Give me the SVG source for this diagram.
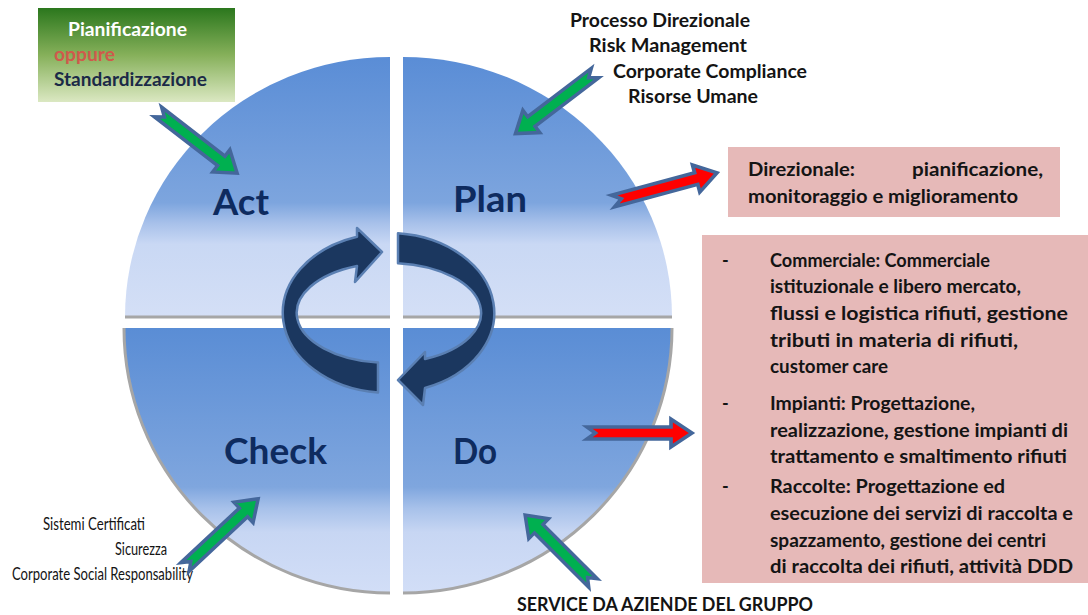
<svg xmlns="http://www.w3.org/2000/svg" xmlns:xlink="http://www.w3.org/1999/xlink" width="1088" height="615" viewBox="0 0 1088 615">
<style>
.t{font-family:Lato,"Open Sans","Liberation Sans",sans-serif;font-weight:bold;font-size:18px;fill:#141414}
.q{font-family:Lato,"Open Sans","Liberation Sans",sans-serif;font-weight:bold;font-size:37px;fill:#0e2b5f}
.n{font-family:Lato,"Liberation Sans",sans-serif;font-weight:normal;font-size:16.5px;fill:#141414}
.ga{fill:#00b050;stroke:#44679b;stroke-width:3.5;stroke-linejoin:miter}
.ra{fill:#ff0000;stroke:#44679b;stroke-width:3.5;stroke-linejoin:miter}
.loop{fill:#1b375f;stroke:#5a7fb2;stroke-width:2.5;stroke-linejoin:round}
.pink{fill:#e6b9b8}
.edge{fill:none;stroke:#a6a6a6;stroke-width:3}
</style>
<defs>
<linearGradient id="gTop" gradientUnits="userSpaceOnUse" x1="0" y1="57" x2="0" y2="317">
<stop offset="0" stop-color="#5a8dd6"/>
<stop offset="0.56" stop-color="#7da5de"/>
<stop offset="0.64" stop-color="#a8c1ea"/>
<stop offset="0.72" stop-color="#c9d8f4"/>
<stop offset="1" stop-color="#d4dff6"/>
</linearGradient>
<linearGradient id="gBot" gradientUnits="userSpaceOnUse" x1="0" y1="328" x2="0" y2="593">
<stop offset="0" stop-color="#5a8dd5"/>
<stop offset="0.6" stop-color="#7fa6de"/>
<stop offset="0.68" stop-color="#a7c1ea"/>
<stop offset="0.77" stop-color="#c7d6f3"/>
<stop offset="1" stop-color="#d2def7"/>
</linearGradient>
<linearGradient id="gGreen" x1="0" y1="0" x2="0" y2="1">
<stop offset="0" stop-color="#2b771d"/>
<stop offset="0.5" stop-color="#86b05a"/>
<stop offset="1" stop-color="#dbe8c2"/>
</linearGradient>
<path id="arr" d="M0,-6 L80,-6 L80,-14 L100,0 L80,14 L80,6 L0,6 L8,0 Z"/>
</defs>
<rect width="1088" height="615" fill="#ffffff"/>

<g id="act">
<path d="M390,317 L125,317 A265,260 0 0 1 390,57 Z" fill="url(#gTop)"/>
<line class="edge" x1="125" y1="317" x2="390" y2="317"/>
<text class="q" x="213" y="215" textLength="56" lengthAdjust="spacingAndGlyphs">Act</text>
</g>
<g id="plan">
<path d="M403,317 L403,57 A269,260 0 0 1 672,317 Z" fill="url(#gTop)"/>
<line class="edge" x1="403" y1="317" x2="672" y2="317"/>
<text class="q" x="453" y="212" textLength="74" lengthAdjust="spacingAndGlyphs">Plan</text>
</g>
<g id="check">
<path d="M390,328 L390,593 A266,265 0 0 1 124,328 Z" fill="url(#gBot)"/>
<path class="edge" d="M390,593 A266,265 0 0 1 124,328"/>
<text class="q" x="224" y="464" textLength="103" lengthAdjust="spacingAndGlyphs">Check</text>
</g>
<g id="do">
<path d="M403,328 L672,328 A269,265 0 0 1 403,593 Z" fill="url(#gBot)"/>
<path class="edge" d="M672,328 A269,265 0 0 1 403,593"/>
<text class="q" x="453" y="464" textLength="44" lengthAdjust="spacingAndGlyphs">Do</text>
</g>

<g id="cycle">
<path class="loop" d="M378,392.6 A106,80 0 0 1 357,236.7 L357,228 L382,252 L355,282 L357,266 A92,50 0 0 0 378,362.6 Z"/>
<path class="loop" d="M398,233.3 A106,80 0 0 1 425,388 L423,405 L398,380 L425,352 L425,359 A92,50 0 0 0 398,263.2 Z"/>
</g>

<g id="box-pianificazione">
<rect x="38" y="8" width="197" height="94" fill="url(#gGreen)"/>
<text class="t" x="68" y="36" textLength="119" lengthAdjust="spacingAndGlyphs" style="fill:#ffffff">Pianificazione</text>
<text class="t" x="54" y="61" textLength="61" lengthAdjust="spacingAndGlyphs" style="fill:#cf5a4c">oppure</text>
<text class="t" x="54" y="86" textLength="153" lengthAdjust="spacingAndGlyphs" style="fill:#1b2a47">Standardizzazione</text>
</g>

<g id="plan-inputs">
<text class="t" x="570" y="27" textLength="180" lengthAdjust="spacingAndGlyphs">Processo Direzionale</text>
<text class="t" x="589" y="52" textLength="158" lengthAdjust="spacingAndGlyphs">Risk Management</text>
<text class="t" x="613" y="78" textLength="194" lengthAdjust="spacingAndGlyphs">Corporate Compliance</text>
<text class="t" x="628" y="103" textLength="130" lengthAdjust="spacingAndGlyphs">Risorse Umane</text>
</g>

<g id="box-direzionale">
<rect class="pink" x="728" y="147" width="332" height="70"/>
<text class="t" x="748" y="176" textLength="107" lengthAdjust="spacingAndGlyphs">Direzionale:</text>
<text class="t" x="912" y="176" textLength="131" lengthAdjust="spacingAndGlyphs">pianificazione,</text>
<text class="t" x="748" y="203" textLength="270" lengthAdjust="spacingAndGlyphs">monitoraggio e miglioramento</text>
</g>

<g id="box-do">
<rect class="pink" x="702" y="235" width="386" height="348"/>
<text class="t" x="722" y="267">-</text>
<text class="t" x="770" y="267" textLength="220" lengthAdjust="spacingAndGlyphs">Commerciale: Commerciale</text>
<text class="t" x="770" y="293" textLength="251" lengthAdjust="spacingAndGlyphs">istituzionale e libero mercato,</text>
<text class="t" x="770" y="320" textLength="298" lengthAdjust="spacingAndGlyphs">flussi e logistica rifiuti, gestione</text>
<text class="t" x="770" y="347" textLength="248" lengthAdjust="spacingAndGlyphs">tributi in materia di rifiuti,</text>
<text class="t" x="770" y="373" textLength="118" lengthAdjust="spacingAndGlyphs">customer care</text>
<text class="t" x="722" y="410">-</text>
<text class="t" x="770" y="410" textLength="205" lengthAdjust="spacingAndGlyphs">Impianti: Progettazione,</text>
<text class="t" x="770" y="437" textLength="298" lengthAdjust="spacingAndGlyphs">realizzazione, gestione impianti di</text>
<text class="t" x="770" y="463" textLength="297" lengthAdjust="spacingAndGlyphs">trattamento e smaltimento rifiuti</text>
<text class="t" x="722" y="493">-</text>
<text class="t" x="770" y="493" textLength="235" lengthAdjust="spacingAndGlyphs">Raccolte: Progettazione ed</text>
<text class="t" x="770" y="520" textLength="303" lengthAdjust="spacingAndGlyphs">esecuzione dei servizi di raccolta e</text>
<text class="t" x="770" y="547" textLength="276" lengthAdjust="spacingAndGlyphs">spazzamento, gestione dei centri</text>
<text class="t" x="770" y="573" textLength="303" lengthAdjust="spacingAndGlyphs">di raccolta dei rifiuti, attività DDD</text>
</g>

<g id="check-inputs">
<text class="n" x="43" y="530" textLength="102" lengthAdjust="spacingAndGlyphs">Sistemi Certificati</text>
<text class="n" x="115" y="555" textLength="52" lengthAdjust="spacingAndGlyphs">Sicurezza</text>
<text class="n" x="12" y="580" textLength="181" lengthAdjust="spacingAndGlyphs">Corporate Social Responsability</text>
</g>

<g id="do-inputs">
<text class="t" x="517" y="611" textLength="296" lengthAdjust="spacingAndGlyphs">SERVICE DA AZIENDE DEL GRUPPO</text>
</g>

<g id="connectors">
<use xlink:href="#arr" class="ga" transform="translate(158,112) rotate(37.7)"/>
<use xlink:href="#arr" class="ga" transform="translate(595,73) rotate(142.7)"/>
<use xlink:href="#arr" class="ga" transform="translate(185,567) rotate(-43)"/>
<use xlink:href="#arr" class="ga" transform="translate(593,583) rotate(-135) scale(0.96,1)"/>
<use xlink:href="#arr" class="ra" transform="translate(613,201) rotate(-15.1) scale(1.077,1)"/>
<use xlink:href="#arr" class="ra" transform="translate(587,433) scale(1.05,1)"/>
</g>
</svg>
